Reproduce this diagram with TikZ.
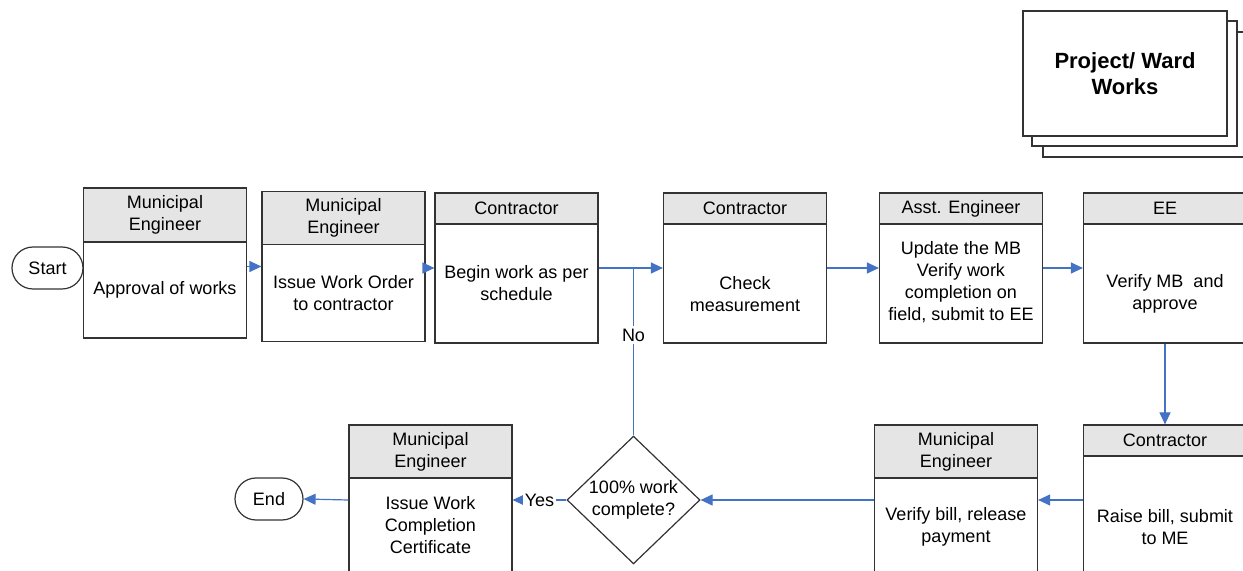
\documentclass[tikz,border=0pt]{standalone}
\usepackage{fontspec}
\setmainfont{Liberation Sans}
\usetikzlibrary {arrows.meta}
\usetikzlibrary {calc}
\usetikzlibrary {shapes.geometric}

\definecolor{flowblue}{HTML}{4472C4}

\begin{document}
\begin{tikzpicture}[x=0.5pt, y=-0.5pt, font=\fontsize{9}{11}\selectfont,
    box/.style={draw=black!80, line width=0.6pt, minimum width=81.5pt, minimum height=75pt, inner sep=0pt},
    head/.style={draw=black!80, line width=0.6pt, fill=black!10, minimum width=81.5pt, inner sep=0pt, anchor=north, align=center},
    txt/.style={align=center, inner sep=0pt},
    term/.style={draw=black!80, line width=0.6pt, rounded corners=10.5pt, minimum height=21pt, inner sep=0pt},
    flow/.style={flowblue, line width=0.6pt, -{Triangle[length=6pt, width=5.5pt]}},
    link/.style={flowblue, line width=0.6pt},
    tag/.style={fill=white, text=black, inner sep=1.5pt}]

    \useasboundingbox (0,0) rectangle (1243,571);
    \clip (0,0) rectangle (1243,571);

    % stacked title card
    \draw[black!80, line width=0.6pt, fill=white] (1043,32) rectangle (1253,157);
    \draw[black!80, line width=0.6pt, fill=white] (1032,21) rectangle (1237,146);
    \node[draw=black!80, line width=0.6pt, fill=white, minimum width=102pt, minimum height=62.5pt, align=center,
          font=\fontsize{11}{13}\selectfont\bfseries] (proj) at (1125,73.5) {Project/ Ward\\Works};

    % top row
    \node[term, minimum width=35.5pt] (start) at (47.5,268) {Start};

    \node[box] (b1) at (165,263) {};
    \node[head, minimum height=27pt] (h1) at (b1.north) {Municipal\\Engineer};
    \node[txt] (t1) at (165,290) {Approval of works};

    \node[box] (b2) at (343.5,266.5) {};
    \node[head, minimum height=26.5pt] (h2) at (b2.north) {Municipal\\Engineer};
    \node[txt] (t2) at (343.5,293) {Issue Work Order\\to contractor};

    \node[box] (b3) at (516.5,268) {};
    \node[head, minimum height=15.5pt] (h3) at (b3.north) {Contractor};
    \node[txt] (t3) at (516.5,283) {Begin work as per\\schedule};

    \node[box] (b4) at (745,268) {};
    \node[head, minimum height=15.5pt] (h4) at (b4.north) {Contractor};
    \node[txt] (t4) at (745,294) {Check\\measurement};

    \node[box] (b5) at (961,268) {};
    \node[head, minimum height=15.5pt] (h5) at (b5.north) {Asst. Engineer};
    \node[txt] (t5) at (961,282.5) {Update the MB\\Verify work\\completion on\\field, submit to EE};

    \node[box] (b6) at (1165,268) {};
    \node[head, minimum height=15.5pt] (h6) at (b6.north) {EE};
    \node[txt] (t6) at (1165,294) {Verify MB\ \ and\\approve};

    % bottom row
    \node[box] (b7) at (1165,500) {};
    \node[head, minimum height=15.5pt] (h7) at (b7.north) {Contractor};
    \node[txt] (t7) at (1165,527) {Raise bill, submit\\to ME};

    \node[box] (b8) at (956,500) {};
    \node[head, minimum height=26.5pt] (h8) at (b8.north) {Municipal\\Engineer};
    \node[txt] (t8) at (956,527) {Verify bill, release\\payment};

    \node[draw=black!80, line width=0.6pt, diamond, minimum width=66.5pt, minimum height=62pt, inner sep=0pt,
          align=center] (dia) at (633.5,500) {100\% work\\complete?};

    \node[box] (b9) at (430.5,500) {};
    \node[head, minimum height=26.5pt] (h9) at (b9.north) {Municipal\\Engineer};
    \node[txt] (t9) at (430.5,525) {Issue Work\\Completion\\Certificate};

    \node[term, minimum width=34pt] (end) at (269,499) {End};

    % connectors
    \draw[flow] (b2.west -| b1.east) -- (b2.west);
    \draw[flow] (b3.west -| b2.east) -- (b3.west);
    \draw[flow] (b3.east) -- (b4.west);
    \draw[flow] (b4.east) -- (b5.west);
    \draw[flow] (b5.east) -- (b6.west);
    \draw[flow] (b6.south) -- (b7.north);
    \draw[flow] (b7.west) -- (b8.east);
    \draw[flow] (b8.west) -- (dia.east);
    \draw[flow] (dia.west) -- node[tag, inner sep=1pt] {Yes} (b9.east);
    \draw[flow] (b9.west) -- (end.east);
    \draw[link] (dia.north) -- node[tag, pos=0.6] {No} (dia.north |- b3.east);

\end{tikzpicture}
\end{document}
